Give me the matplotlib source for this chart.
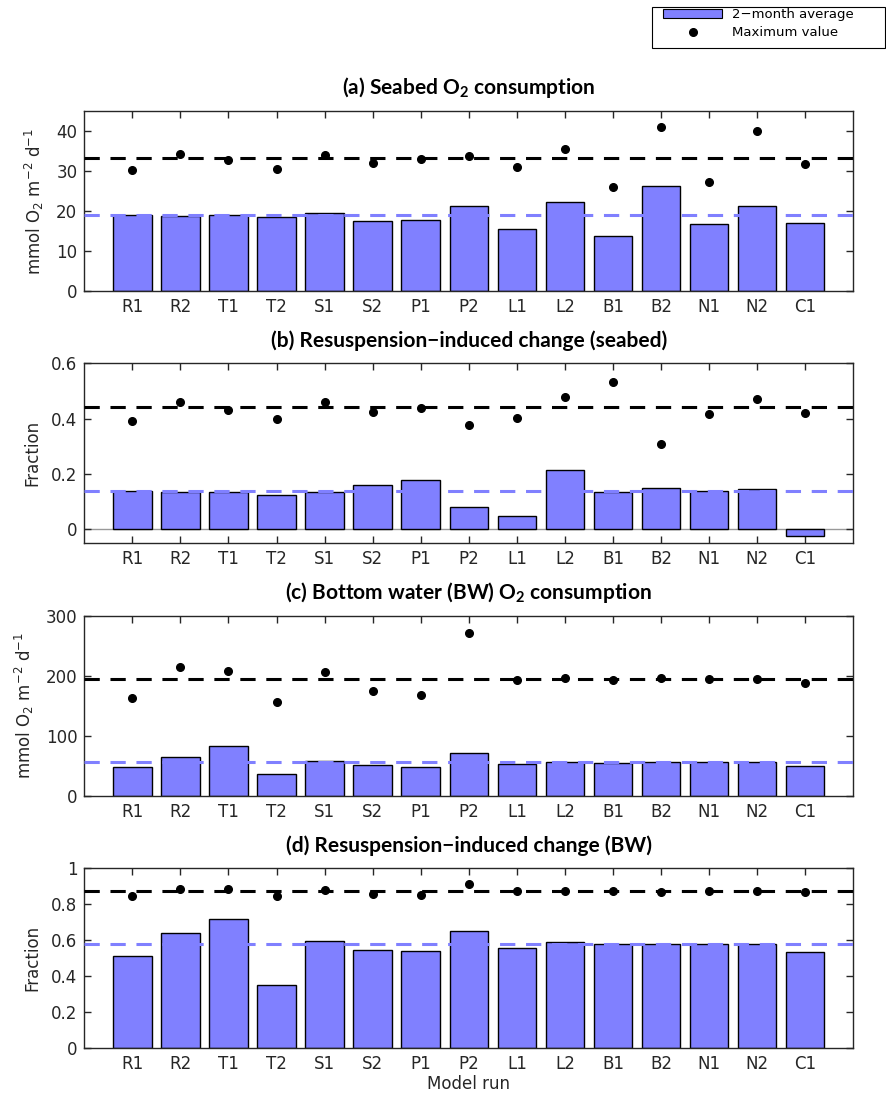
import matplotlib
matplotlib.use("Agg")
import matplotlib.pyplot as plt
from matplotlib.patches import Patch, Rectangle
from matplotlib.lines import Line2D

# model runs
runs = ['R1', 'R2', 'T1', 'T2', 'S1', 'S2', 'P1', 'P2', 'L1', 'L2', 'B1', 'B2', 'N1', 'N2', 'C1']

# (a) seabed O2 consumption
seabed_avg = [18.9, 18.8, 18.9, 18.6, 19.6, 17.6, 17.8, 21.2, 15.6, 22.2, 13.7, 26.2, 16.8, 21.2, 17.0]
seabed_max = [30.3, 34.2, 32.7, 30.6, 34.0, 32.1, 32.9, 33.7, 31.0, 35.5, 26.1, 41.1, 27.3, 40.1, 31.8]
seabed_ref_max, seabed_ref_avg = 33.2, 18.9

# (b) resuspension-induced change, seabed
sb_frac_avg = [0.140, 0.137, 0.137, 0.126, 0.134, 0.160, 0.180, 0.082, 0.047, 0.215, 0.137, 0.150, 0.138, 0.146, -0.022]
sb_frac_max = [0.390, 0.462, 0.432, 0.398, 0.460, 0.426, 0.439, 0.378, 0.403, 0.480, 0.533, 0.310, 0.416, 0.470, 0.420]
sb_frac_ref_max, sb_frac_ref_avg = 0.444, 0.140

# (c) bottom water O2 consumption
bw_avg = [48.3, 64.4, 83.3, 36.1, 57.8, 51.1, 48.9, 71.1, 53.3, 57.2, 55.6, 56.7, 56.7, 56.1, 49.4]
bw_max = [162.8, 214.4, 208.3, 157.2, 206.7, 175.0, 167.8, 271.1, 192.8, 196.1, 193.3, 196.1, 195.0, 195.0, 187.8]
bw_ref_max, bw_ref_avg = 195.5, 56.5

# (d) resuspension-induced change, BW
bw_frac_avg = [0.513, 0.639, 0.719, 0.350, 0.598, 0.544, 0.539, 0.652, 0.557, 0.591, 0.580, 0.580, 0.578, 0.578, 0.535]
bw_frac_max = [0.846, 0.883, 0.885, 0.843, 0.878, 0.856, 0.850, 0.913, 0.874, 0.874, 0.872, 0.870, 0.874, 0.874, 0.870]
bw_frac_ref_max, bw_frac_ref_avg = 0.874, 0.578

plt.rcParams['mathtext.default'] = 'regular'
plt.rcParams['font.family'] = ['DejaVu Sans']

BAR = '#8080ff'
DARK = '0.15'
tick_font = ['Liberation Sans Narrow', 'DejaVu Sans']
title_font = ['Lato', 'DejaVu Sans']

fig = plt.figure(figsize=(8.86, 10.95), dpi=100)

panels = [
    ('(a) Seabed O$_2$ consumption', seabed_avg, seabed_max, seabed_ref_avg, seabed_ref_max,
     (0, 45), [0, 10, 20, 30, 40], ['0', '10', '20', '30', '40'], 'mmol O$_2$ m$^{-2}$ d$^{-1}$'),
    ('(b) Resuspension\u2212induced change (seabed)', sb_frac_avg, sb_frac_max, sb_frac_ref_avg, sb_frac_ref_max,
     (-0.05, 0.6), [0, 0.2, 0.4, 0.6], ['0', '0.2', '0.4', '0.6'], 'Fraction'),
    ('(c) Bottom water (BW) O$_2$ consumption', bw_avg, bw_max, bw_ref_avg, bw_ref_max,
     (0, 300), [0, 100, 200, 300], ['0', '100', '200', '300'], 'mmol O$_2$ m$^{-2}$ d$^{-1}$'),
    ('(d) Resuspension\u2212induced change (BW)', bw_frac_avg, bw_frac_max, bw_frac_ref_avg, bw_frac_ref_max,
     (0, 1), [0, 0.2, 0.4, 0.6, 0.8, 1], ['0', '0.2', '0.4', '0.6', '0.8', '1'], 'Fraction'),
]

bottoms = [0.7342, 0.5038, 0.2731, 0.0427]
x = list(range(1, len(runs) + 1))

for (title, avg, mx, ref_avg, ref_max, ylim, yt, ytl, ylab), b in zip(panels, bottoms):
    ax = fig.add_axes([0.0951, b, 0.868, 0.1644])
    ax.bar(x, avg, width=0.8, color=BAR, edgecolor='black', linewidth=1, zorder=2)
    if ylim[0] < 0:
        ax.axhline(0, color='0.6', lw=1, zorder=1)
    ax.axhline(ref_avg, color=BAR, lw=2.2, dashes=(5, 3.5), zorder=3)
    ax.axhline(ref_max, color='black', lw=2.2, dashes=(5, 3.5), zorder=3)
    ax.plot(x, mx, 'o', color='black', ms=5.5, zorder=4)
    ax.set_xlim(0, 16)
    ax.set_ylim(*ylim)
    ax.set_xticks(x)
    ax.set_xticklabels(runs, family=tick_font, fontsize=12, color=DARK)
    ax.set_yticks(yt)
    ax.set_yticklabels(ytl, family=tick_font, fontsize=12, color=DARK)
    ax.tick_params(direction='in', length=5, width=1, color=DARK, top=True, right=True, pad=5)
    for s in ax.spines.values():
        s.set_linewidth(1)
        s.set_color(DARK)
    ax.set_ylabel(ylab, fontsize=12, color=DARK, labelpad=7)
    ax.set_title(title, family=title_font, fontweight='bold', fontsize=15, pad=12)

ax.set_xlabel('Model run', fontsize=12, color=DARK, labelpad=1)

# legend box drawn by hand (wide left margin like the original)
fig.patches.append(Rectangle((652 / 886, 1 - 48 / 1095), 233 / 886, 41 / 1095,
                             transform=fig.transFigure, facecolor='white',
                             edgecolor='black', lw=0.8))
handles = [Patch(facecolor=BAR, edgecolor='black', linewidth=0.8),
           Line2D([], [], marker='o', color='black', ls='none', ms=5.5)]
fig.legend(handles, ['2\u2212month average', 'Maximum value'], loc='upper left',
           bbox_to_anchor=(663 / 886, 1 - 8 / 1095), fontsize=9.5, frameon=False,
           handlelength=4.5, handletextpad=0.7, borderpad=0, labelspacing=0.4,
           borderaxespad=0)

fig.savefig('out.png', dpi=100)
